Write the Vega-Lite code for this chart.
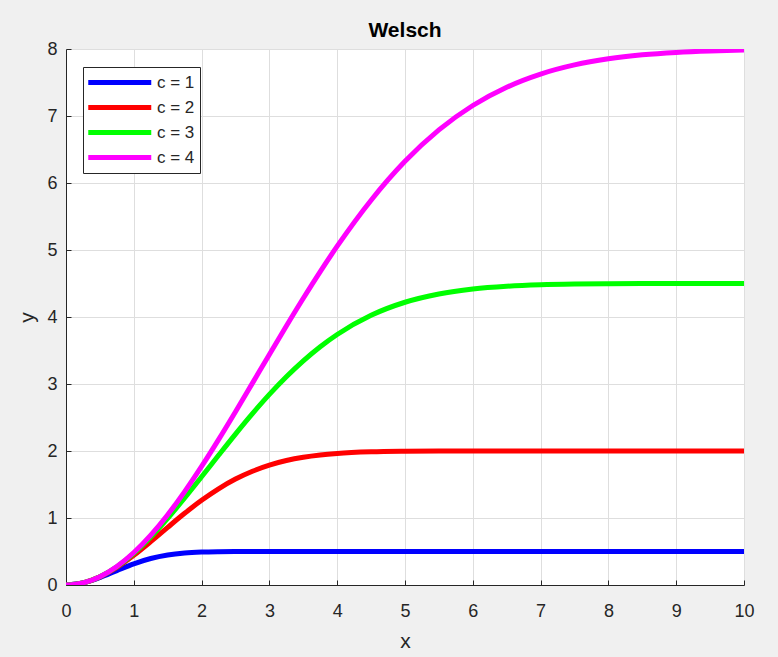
{
  "$schema": "https://vega.github.io/schema/vega-lite/v6.json",
  "autosize": "none",
  "width": 678,
  "height": 536,
  "padding": {"left": 66, "top": 49, "right": 34, "bottom": 72},
  "background": "#f0f0f0",
  "title": {"text": "Welsch", "font": "Liberation Sans", "fontSize": 21, "fontWeight": "bold", "color": "#000000", "offset": -1, "anchor": "middle"},
  "config": {
    "view": {"fill": "#ffffff", "stroke": null},
    "font": "Liberation Sans"
  },
  "data": {"values": [
    {"x":0,"y":0,"c":"c = 1"},{"x":0.25,"y":0.0303,"c":"c = 1"},{"x":0.5,"y":0.1106,"c":"c = 1"},{"x":0.75,"y":0.2151,"c":"c = 1"},{"x":1,"y":0.3161,"c":"c = 1"},{"x":1.25,"y":0.3952,"c":"c = 1"},{"x":1.5,"y":0.4473,"c":"c = 1"},{"x":1.75,"y":0.4766,"c":"c = 1"},{"x":2,"y":0.4908,"c":"c = 1"},{"x":2.25,"y":0.4968,"c":"c = 1"},{"x":2.5,"y":0.499,"c":"c = 1"},{"x":2.75,"y":0.4997,"c":"c = 1"},{"x":3,"y":0.4999,"c":"c = 1"},{"x":3.5,"y":0.5,"c":"c = 1"},{"x":4,"y":0.5,"c":"c = 1"},{"x":5,"y":0.5,"c":"c = 1"},{"x":6,"y":0.5,"c":"c = 1"},{"x":7,"y":0.5,"c":"c = 1"},{"x":8,"y":0.5,"c":"c = 1"},{"x":9,"y":0.5,"c":"c = 1"},{"x":10,"y":0.5,"c":"c = 1"},
    {"x":0,"y":0,"c":"c = 2"},{"x":0.25,"y":0.031,"c":"c = 2"},{"x":0.5,"y":0.1212,"c":"c = 2"},{"x":0.75,"y":0.2624,"c":"c = 2"},{"x":1,"y":0.4424,"c":"c = 2"},{"x":1.25,"y":0.6466,"c":"c = 2"},{"x":1.5,"y":0.8604,"c":"c = 2"},{"x":1.75,"y":1.0699,"c":"c = 2"},{"x":2,"y":1.2642,"c":"c = 2"},{"x":2.25,"y":1.4359,"c":"c = 2"},{"x":2.5,"y":1.5808,"c":"c = 2"},{"x":2.75,"y":1.698,"c":"c = 2"},{"x":3,"y":1.7892,"c":"c = 2"},{"x":3.25,"y":1.8574,"c":"c = 2"},{"x":3.5,"y":1.9065,"c":"c = 2"},{"x":3.75,"y":1.9405,"c":"c = 2"},{"x":4,"y":1.9634,"c":"c = 2"},{"x":4.5,"y":1.9873,"c":"c = 2"},{"x":5,"y":1.9961,"c":"c = 2"},{"x":5.5,"y":1.999,"c":"c = 2"},{"x":6,"y":1.9998,"c":"c = 2"},{"x":7,"y":2,"c":"c = 2"},{"x":8,"y":2,"c":"c = 2"},{"x":9,"y":2,"c":"c = 2"},{"x":10,"y":2,"c":"c = 2"},
    {"x":0,"y":0,"c":"c = 3"},{"x":0.25,"y":0.0311,"c":"c = 3"},{"x":0.5,"y":0.1233,"c":"c = 3"},{"x":0.75,"y":0.2727,"c":"c = 3"},{"x":1,"y":0.4732,"c":"c = 3"},{"x":1.25,"y":0.7172,"c":"c = 3"},{"x":1.5,"y":0.9954,"c":"c = 3"},{"x":1.75,"y":1.2979,"c":"c = 3"},{"x":2,"y":1.6147,"c":"c = 3"},{"x":2.25,"y":1.9359,"c":"c = 3"},{"x":2.5,"y":2.2529,"c":"c = 3"},{"x":2.75,"y":2.5578,"c":"c = 3"},{"x":3,"y":2.8445,"c":"c = 3"},{"x":3.25,"y":3.1084,"c":"c = 3"},{"x":3.5,"y":3.3463,"c":"c = 3"},{"x":3.75,"y":3.5568,"c":"c = 3"},{"x":4,"y":3.7394,"c":"c = 3"},{"x":4.5,"y":4.0257,"c":"c = 3"},{"x":5,"y":4.2202,"c":"c = 3"},{"x":5.5,"y":4.3438,"c":"c = 3"},{"x":6,"y":4.4176,"c":"c = 3"},{"x":6.5,"y":4.4588,"c":"c = 3"},{"x":7,"y":4.4806,"c":"c = 3"},{"x":7.5,"y":4.4913,"c":"c = 3"},{"x":8,"y":4.4963,"c":"c = 3"},{"x":8.5,"y":4.4985,"c":"c = 3"},{"x":9,"y":4.4994,"c":"c = 3"},{"x":9.5,"y":4.4998,"c":"c = 3"},{"x":10,"y":4.4999,"c":"c = 3"},
    {"x":0,"y":0,"c":"c = 4"},{"x":0.25,"y":0.0312,"c":"c = 4"},{"x":0.5,"y":0.124,"c":"c = 4"},{"x":0.75,"y":0.2764,"c":"c = 4"},{"x":1,"y":0.4847,"c":"c = 4"},{"x":1.25,"y":0.7443,"c":"c = 4"},{"x":1.5,"y":1.0494,"c":"c = 4"},{"x":1.75,"y":1.3937,"c":"c = 4"},{"x":2,"y":1.7696,"c":"c = 4"},{"x":2.25,"y":2.1698,"c":"c = 4"},{"x":2.5,"y":2.5866,"c":"c = 4"},{"x":2.75,"y":3.0133,"c":"c = 4"},{"x":3,"y":3.4418,"c":"c = 4"},{"x":3.25,"y":3.8658,"c":"c = 4"},{"x":3.5,"y":4.2797,"c":"c = 4"},{"x":3.75,"y":4.6781,"c":"c = 4"},{"x":4,"y":5.057,"c":"c = 4"},{"x":4.5,"y":5.7435,"c":"c = 4"},{"x":5,"y":6.3231,"c":"c = 4"},{"x":5.5,"y":6.7921,"c":"c = 4"},{"x":6,"y":7.1568,"c":"c = 4"},{"x":6.5,"y":7.4295,"c":"c = 4"},{"x":7,"y":7.6258,"c":"c = 4"},{"x":7.5,"y":7.7622,"c":"c = 4"},{"x":8,"y":7.8534,"c":"c = 4"},{"x":8.5,"y":7.9125,"c":"c = 4"},{"x":9,"y":7.9494,"c":"c = 4"},{"x":9.5,"y":7.9716,"c":"c = 4"},{"x":10,"y":7.9846,"c":"c = 4"}
  ]},
  "mark": {"type": "line", "strokeWidth": 5, "interpolate": "monotone", "clip": true},
  "encoding": {
    "x": {
      "field": "x", "type": "quantitative",
      "scale": {"domain": [0, 10], "nice": false, "zero": false},
      "axis": {
        "title": "x", "values": [0,1,2,3,4,5,6,7,8,9,10],
        "titleFont": "Liberation Sans", "titleFontSize": 21, "titleFontWeight": "normal", "titleColor": "#262626", "titlePadding": 10,
        "labelFont": "Liberation Sans", "labelFontSize": 18, "labelColor": "#262626", "labelPadding": 22, "labelFlush": false,
        "domainColor": "#262626", "domainWidth": 1,
        "tickColor": "#262626", "tickSize": -5, "tickWidth": 1,
        "grid": true, "gridColor": "#dedede", "gridWidth": 1
      }
    },
    "y": {
      "field": "y", "type": "quantitative",
      "scale": {"domain": [0, 8], "nice": false},
      "axis": {
        "title": "y", "values": [0,1,2,3,4,5,6,7,8],
        "titleFont": "Liberation Sans", "titleFontSize": 21, "titleFontWeight": "normal", "titleColor": "#262626", "titlePadding": 9,
        "labelFont": "Liberation Sans", "labelFontSize": 18, "labelColor": "#262626", "labelPadding": 14, "labelFlush": false,
        "domainColor": "#262626", "domainWidth": 1,
        "tickColor": "#262626", "tickSize": -5, "tickWidth": 1,
        "grid": true, "gridColor": "#dedede", "gridWidth": 1
      }
    },
    "color": {
      "field": "c", "type": "nominal",
      "scale": {"domain": ["c = 1", "c = 2", "c = 3", "c = 4"], "range": ["#0000ff", "#ff0000", "#00ff00", "#ff00ff"]},
      "legend": {
        "title": null, "orient": "none", "legendX": 17, "legendY": 18,
        "symbolType": "M-1.3,0H6.7", "symbolSize": 248, "symbolStrokeWidth": 5,
        "labelFont": "Liberation Sans", "labelFontSize": 17, "labelColor": "#262626", "labelOffset": 48,
        "strokeColor": "#262626", "fillColor": "#ffffff", "padding": 5, "rowPadding": 4
      }
    }
  }
}
